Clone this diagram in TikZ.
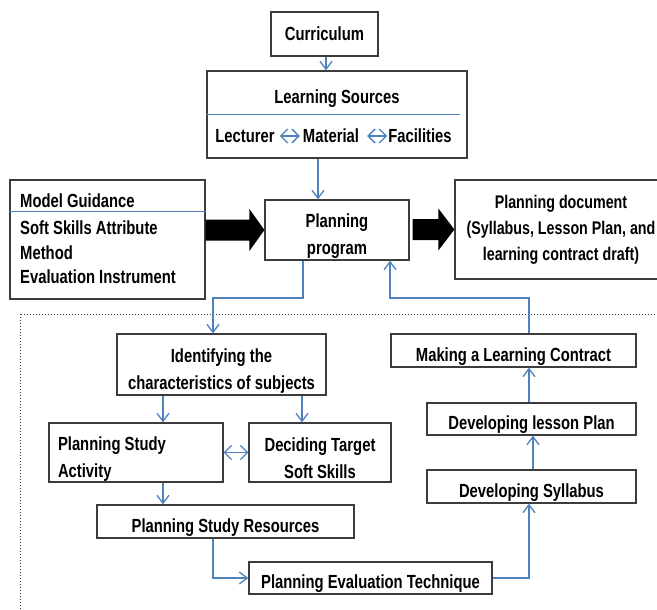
\documentclass[tikz,border=0pt]{standalone}
\usepackage{fontspec}
\setmainfont{Liberation Sans}[FakeStretch=0.78]
\usetikzlibrary{arrows.meta,calc}
\definecolor{flowblue}{RGB}{79,129,189}
\definecolor{boxgray}{RGB}{60,60,60}
\newcommand\boxfont{\fontsize{19}{27}\selectfont\bfseries}
% a tall zero-width strut on the first line sets the text a little lower in its box
\newcommand\lowstrut{\rule{0pt}{26pt}}
\begin{document}
\begin{tikzpicture}[x=1pt,y=-1pt,
  box/.style={draw=boxgray, line width=1.2pt, fill=white, inner sep=0pt,
              align=center, font=\boxfont},
  txt/.style={inner sep=0pt, font=\boxfont},
  conn/.style={draw=flowblue, line width=1.3pt,
               -{Straight Barb[length=8pt,width=12pt]}},
  both/.style={draw=flowblue, line width=1.3pt,
               {Straight Barb[length=7pt,width=14pt]}-{Straight Barb[length=7pt,width=14pt]}},
  divider/.style={draw=flowblue, line width=1.1pt},
  block/.style={fill=black}
]
\useasboundingbox (0,0) rectangle (657,610);
\fill[white] (0,0) rectangle (657,610);
\begin{scope}
\clip (0,0) rectangle (657,610);

% frame around the detailed planning steps
\draw[boxgray, line width=1pt, dotted] (20,314) rectangle (690,650);

% column positions for the connectors
\coordinate (colA) at (326,0);
\coordinate (colB) at (318,0);
\coordinate (colC) at (303,0);
\coordinate (colD) at (163,0);
\coordinate (colE) at (302,0);
\coordinate (colF) at (213,0);
\coordinate (colG) at (529,0);
\coordinate (colH) at (533,0);
\coordinate (j1) at (213,298);
\coordinate (j2) at (390,298);

% upper part
\node[box, minimum width=107pt, minimum height=44pt] (cur) at (324.5,34) {Curriculum};

\node[box, minimum width=260pt, minimum height=87pt] (ls) at (337,114.5) {};
\node[txt] (lstitle) at (337,99) {Learning Sources};
\draw[divider] ([yshift=-44pt]ls.north west) -- ([xshift=-8pt,yshift=-44pt]ls.north east);
\node[txt] (lec) at (245,136) {Lecturer};
\node[txt] (mat) at (331,136) {Material};
\node[txt] (fac) at (420,136) {Facilities};
\draw[both, shorten <=5pt, shorten >=3pt] (lec) -- (mat);
\draw[both, shorten <=8pt, shorten >=1pt] (mat) -- (fac);

\node[box, minimum width=195pt, minimum height=119pt] (mg) at (107.5,239.5) {};
\node[txt, anchor=west] (mgtitle) at (20,201) {Model Guidance};
\draw[divider] ([yshift=-32pt]mg.north west) -- ([yshift=-32pt]mg.north east);
\node[txt, anchor=west, align=left, font=\fontsize{19}{24.5}\selectfont\bfseries] (mglist) at (20,252.5)
  {Soft Skills Attribute\\Method\\Evaluation Instrument};

\node[box, minimum width=144pt, minimum height=60pt] (pp) at (337,230) {\lowstrut Planning\\program};

\node[box, minimum width=212pt, minimum height=99pt, font=\fontsize{18.3}{26}\selectfont\bfseries] (pd) at (561,229.5)
  {Planning document\\(Syllabus, Lesson Plan, and\\learning contract draft)};

% block arrows
\fill[block] (pp.west) -- ++(-15,-21) -- ++(0,10.5)
  -- ($(mg.east |- pp.west)+(0,-10.5)$) -- ++(0,21)
  -- ($(pp.west)+(-15,10.5)$) -- ++(0,10.5) -- cycle;
\fill[block] (pd.west) -- ++(-16,-21) -- ++(0,10.5)
  -- ($(pp.east |- pd.west)+(3,-10.5)$) -- ++(0,21)
  -- ($(pd.west)+(-16,10.5)$) -- ++(0,10.5) -- cycle;

% lower part
\node[box, minimum width=209pt, minimum height=61pt] (id) at (221.5,364.5)
  {\lowstrut Identifying the\\characteristics of subjects};
\node[box, minimum width=174pt, minimum height=59pt, text width=156pt, align=flush left] (psa) at (136,452.5)
  {\lowstrut Planning Study\\Activity};
\node[box, minimum width=142pt, minimum height=59pt] (dec) at (320,452.5)
  {\lowstrut Deciding Target\\Soft Skills};
\node[box, minimum width=257pt, minimum height=33pt] (psr) at (225.5,521.5) {\lowstrut Planning Study Resources};
\node[box, minimum width=243pt, minimum height=32pt] (pet) at (370.5,578) {\lowstrut Planning Evaluation Technique};
\node[box, minimum width=209pt, minimum height=33pt] (syl) at (531.5,486.5) {\lowstrut Developing Syllabus};
\node[box, minimum width=209pt, minimum height=32pt] (dlp) at (531.5,419) {\lowstrut Developing lesson Plan};
\node[box, minimum width=245pt, minimum height=33pt] (mlc) at (513.5,350.5) {\lowstrut Making a Learning Contract};

% connectors
\draw[conn] (cur.south -| colA) -- (ls.north -| colA);
\draw[conn] (ls.south -| colB) -- (pp.north -| colB);
\draw[conn] (pp.south -| colC) |- (j1) -- (id.north -| j1);
\draw[conn] (id.south -| colD) -- (psa.north -| colD);
\draw[conn] (id.south -| colE) -- (dec.north -| colE);
\draw[both] (psa.east) -- (dec.west);
\draw[conn] (psa.south -| colD) -- (psr.north -| colD);
\draw[conn] (psr.south -| colF) |- (pet.west);
\draw[conn] (pet.east) -| (syl.south -| colG);
\draw[conn] (syl.north -| colH) -- (dlp.south -| colH);
\draw[conn] (dlp.north -| colG) -- (mlc.south -| colG);
\draw[conn] (mlc.north -| colG) |- (j2) -- (pp.south -| j2);
\end{scope}
\end{tikzpicture}
\end{document}
